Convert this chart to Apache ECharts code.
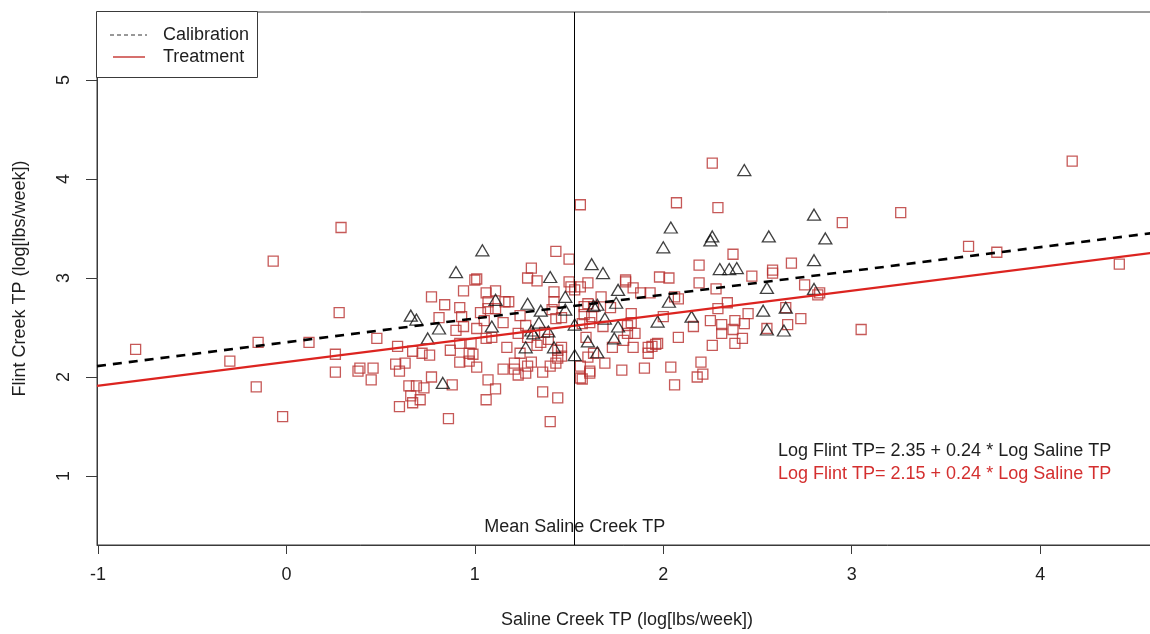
<!DOCTYPE html>
<html>
<head>
<meta charset="utf-8">
<script src="https://cdn.jsdelivr.net/npm/echarts@6/dist/echarts.min.js"></script>
<style>
  html, body { margin: 0; padding: 0; background: #fff; overflow: hidden; }
  #chart { width: 1150px; height: 634px; }
</style>
</head>
<body>
<div id="chart"></div>
<script>
// calibration period (triangles), [log Saline TP, log Flint TP]
const calibrationPoints = [
  [2.43, 4.09], [2.80, 3.64], [2.04, 3.51], [2.00, 3.31], [2.25, 3.38], [2.26, 3.42],
  [2.56, 3.42], [2.86, 3.40], [1.04, 3.28], [0.90, 3.06], [1.62, 3.14], [1.68, 3.05],
  [2.30, 3.09], [2.35, 3.09], [2.39, 3.10], [2.80, 3.18], [1.40, 3.01], [1.76, 2.88],
  [1.48, 2.81], [2.55, 2.90], [2.80, 2.89], [1.11, 2.78], [1.28, 2.74], [1.35, 2.67],
  [1.48, 2.68], [1.75, 2.75], [1.63, 2.72], [1.65, 2.73], [2.03, 2.76], [0.66, 2.62],
  [0.69, 2.58], [0.81, 2.49], [1.09, 2.51], [1.53, 2.53], [1.39, 2.46], [1.76, 2.51],
  [1.97, 2.56], [2.15, 2.61], [2.53, 2.67], [2.65, 2.70], [2.55, 2.48], [2.64, 2.47],
  [0.75, 2.39], [1.34, 2.55], [1.31, 2.44], [1.30, 2.47], [1.74, 2.39], [1.60, 2.36],
  [1.42, 2.30], [1.27, 2.30], [1.65, 2.25], [1.53, 2.22], [0.83, 1.94], [1.69, 2.59]
];

// treatment period (squares)
const treatmentPoints = [
  [-0.80, 2.28], [-0.07, 3.17], [0.29, 3.51], [0.28, 2.65], [-0.15, 2.35], [0.12, 2.35],
  [0.48, 2.39], [-0.30, 2.16], [0.26, 2.23], [0.26, 2.05], [0.38, 2.06], [0.39, 2.09],
  [0.46, 2.09], [0.45, 1.97], [-0.16, 1.90], [-0.02, 1.60],
  [1.00, 2.98], [1.01, 2.99], [0.94, 2.87], [0.77, 2.81], [0.84, 2.73], [0.92, 2.70],
  [0.81, 2.60], [0.93, 2.61], [0.94, 2.51], [0.90, 2.47], [0.59, 2.31], [0.67, 2.26],
  [0.72, 2.24], [0.76, 2.22], [0.87, 2.27], [0.92, 2.34], [0.98, 2.34], [0.92, 2.15],
  [0.97, 2.24], [0.99, 2.23], [0.97, 2.16], [1.01, 2.10], [0.58, 2.13], [0.60, 2.06],
  [0.63, 2.14], [0.77, 2.00], [0.65, 1.91], [0.69, 1.91], [0.73, 1.89], [0.88, 1.92],
  [0.66, 1.81], [0.67, 1.74], [0.71, 1.77], [0.60, 1.70], [0.86, 1.58],
  [1.43, 3.27], [1.50, 3.19], [1.30, 3.10], [1.28, 3.00], [1.33, 2.97], [1.50, 2.96],
  [1.42, 2.86], [1.51, 2.91], [1.53, 2.88], [1.06, 2.85], [1.11, 2.87], [1.16, 2.76],
  [1.18, 2.76], [1.07, 2.76], [1.07, 2.69], [1.11, 2.69], [1.42, 2.76], [1.41, 2.68],
  [1.46, 2.60], [1.43, 2.59], [1.24, 2.62], [1.15, 2.55], [1.03, 2.65], [1.05, 2.57],
  [1.01, 2.49], [1.06, 2.39], [1.09, 2.40], [1.27, 2.52], [1.23, 2.44], [1.28, 2.40],
  [1.35, 2.35], [1.33, 2.32], [1.17, 2.30], [1.37, 2.45], [1.39, 2.38], [1.46, 2.30],
  [1.44, 2.27], [1.46, 2.21], [1.44, 2.19], [1.24, 2.24], [1.30, 2.15], [1.28, 2.11],
  [1.21, 2.14], [1.15, 2.08], [1.21, 2.08], [1.23, 2.02], [1.27, 2.04], [1.36, 2.05],
  [1.40, 2.11], [1.43, 2.14], [1.07, 1.97], [1.11, 1.88], [1.36, 1.85], [1.44, 1.79],
  [1.06, 1.77], [1.40, 1.55], [1.56, 2.11], [1.56, 1.99],
  [2.07, 3.76], [1.56, 3.74], [1.98, 3.01], [2.03, 3.00], [1.80, 2.98], [1.80, 2.96],
  [1.84, 2.90], [1.88, 2.85], [1.93, 2.85], [1.60, 2.95], [1.56, 2.91], [1.67, 2.81],
  [1.60, 2.74], [1.63, 2.71], [1.58, 2.71], [1.72, 2.70], [2.06, 2.81], [2.08, 2.79],
  [1.58, 2.63], [1.62, 2.61], [1.61, 2.55], [1.57, 2.54], [1.68, 2.51], [1.83, 2.64],
  [1.83, 2.55], [1.81, 2.52], [1.85, 2.44], [1.81, 2.44], [2.00, 2.61], [1.59, 2.40],
  [1.79, 2.37], [1.73, 2.30], [1.84, 2.30], [1.92, 2.30], [1.92, 2.24], [1.94, 2.31],
  [1.96, 2.33], [1.97, 2.34], [2.08, 2.40], [1.60, 2.20], [1.63, 2.24], [1.69, 2.14],
  [1.78, 2.07], [1.90, 2.09], [2.04, 2.10], [1.61, 2.06], [1.61, 2.04], [1.57, 1.98],
  [2.06, 1.92],
  [2.26, 4.16], [2.29, 3.71], [2.37, 3.24], [2.19, 3.13], [2.47, 3.02], [2.58, 3.08],
  [2.58, 3.05], [2.68, 3.15], [2.19, 2.95], [2.28, 2.89], [2.34, 2.75], [2.29, 2.69],
  [2.45, 2.64], [2.16, 2.51], [2.25, 2.57], [2.31, 2.53], [2.31, 2.44], [2.38, 2.57],
  [2.37, 2.48], [2.38, 2.34], [2.43, 2.54], [2.42, 2.39], [2.26, 2.32], [2.20, 2.15],
  [2.18, 2.00], [2.21, 2.03], [2.65, 2.70], [2.66, 2.53], [2.75, 2.93], [2.82, 2.83],
  [2.83, 2.85], [2.73, 2.59], [2.55, 2.49],
  [4.17, 4.18], [3.26, 3.66], [2.95, 3.56], [3.62, 3.32], [3.77, 3.26], [4.42, 3.14],
  [3.05, 2.48]
];

// fitted lines, ends at the plot edges
const calibrationFit = [[-1.005, 2.11], [4.62, 3.46]];
const treatmentFit = [[-1.005, 1.91], [4.62, 3.26]];
const meanSaline = 1.53;

const xTicks = [-1, 0, 1, 2, 3, 4];
const yTicks = [1, 2, 3, 4, 5];
const calibrationEquation = "Log Flint TP= 2.35 + 0.24 * Log Saline TP";
const treatmentEquation = "Log Flint TP= 2.15 + 0.24 * Log Saline TP";

const FONT = "'Liberation Sans', Arial, sans-serif";
const TEXT = "#1e1e1e";
const AXIS = "#3a3a3a";
const RED_LINE = "#dc2420";
const RED_MARK = "#b8302e";

const chart = echarts.init(document.getElementById("chart"));

// the plot box runs past the right edge of the picture, as in the source
chart.setOption({
  animation: false,
  grid: {
    left: 97, top: 12, width: 1060, height: 533,
    outerBoundsMode: "none",
    show: true, borderColor: AXIS, borderWidth: 1,
  },
  xAxis: {
    type: "value",
    min: -1.005,
    max: 4.62,
    name: "Saline Creek TP (log[lbs/week])",
    nameLocation: "middle",
    nameGap: 66,
    nameTextStyle: { fontFamily: FONT, fontSize: 18, color: TEXT },
    axisLine: { show: true, onZero: false, lineStyle: { color: AXIS } },
    axisTick: { customValues: xTicks, length: 9, lineStyle: { color: AXIS } },
    axisLabel: { customValues: xTicks, margin: 21, fontFamily: FONT, fontSize: 18, color: TEXT },
    splitLine: { show: false },
  },
  yAxis: {
    type: "value",
    min: 0.303,
    max: 5.687,
    name: "Flint Creek TP (log[lbs/week])",
    nameLocation: "middle",
    nameGap: 68,
    nameTextStyle: { fontFamily: FONT, fontSize: 18, color: TEXT },
    axisLine: { show: true, onZero: false, lineStyle: { color: AXIS } },
    axisTick: { customValues: yTicks, length: 11, lineStyle: { color: AXIS } },
    axisLabel: { customValues: yTicks, rotate: 90, margin: 24, fontFamily: FONT, fontSize: 18, color: TEXT },
    splitLine: { show: false },
  },
  series: [
    {
      name: "Treatment points",
      type: "scatter",
      symbol: "rect",
      symbolSize: 10,
      data: treatmentPoints,
      itemStyle: { color: "rgba(0,0,0,0)", borderColor: RED_MARK, borderWidth: 1.3 },
      emphasis: { disabled: true },
      z: 2,
    },
    {
      name: "Calibration points",
      type: "scatter",
      symbol: "triangle",
      symbolSize: [13, 11],
      data: calibrationPoints,
      itemStyle: { color: "rgba(0,0,0,0)", borderColor: "#111", borderWidth: 1.3 },
      emphasis: { disabled: true },
      z: 3,
    },
    {
      name: "Calibration",
      type: "line",
      data: calibrationFit,
      symbol: "none",
      lineStyle: { color: "#000", width: 2.6, type: [9, 7] },
      z: 4,
      markLine: {
        silent: true,
        symbol: "none",
        label: { show: false },
        lineStyle: { color: "#000", width: 1, type: "solid" },
        data: [{ xAxis: meanSaline }],
      },
    },
    {
      name: "Treatment",
      type: "line",
      data: treatmentFit,
      symbol: "none",
      lineStyle: { color: RED_LINE, width: 2.4 },
      z: 4,
    },
  ],
});

const meanX = chart.convertToPixel({ xAxisIndex: 0 }, meanSaline);

chart.setOption({
  graphic: [
    // legend box
    {
      type: "rect", z: 10,
      shape: { x: 96.5, y: 11.5, width: 161, height: 66 },
      style: { fill: "#fff", stroke: AXIS, lineWidth: 1 },
    },
    {
      type: "line", z: 11,
      shape: { x1: 110, y1: 35, x2: 147, y2: 35 },
      style: { stroke: "#333", lineWidth: 1, lineDash: [4, 3] },
    },
    {
      type: "text", z: 11, x: 163, y: 35,
      style: { text: "Calibration", font: "18px " + FONT, fill: TEXT, verticalAlign: "middle" },
    },
    {
      type: "line", z: 11,
      shape: { x1: 113, y1: 57, x2: 145, y2: 57 },
      style: { stroke: "#c8403c", lineWidth: 1.5 },
    },
    {
      type: "text", z: 11, x: 163, y: 57,
      style: { text: "Treatment", font: "18px " + FONT, fill: TEXT, verticalAlign: "middle" },
    },
    // annotations
    {
      type: "text", z: 11, x: meanX, y: 527,
      style: { text: "Mean Saline Creek TP", font: "18px " + FONT, fill: TEXT, align: "center", verticalAlign: "middle" },
    },
    {
      type: "text", z: 11, x: 778, y: 451,
      style: { text: calibrationEquation, font: "18px " + FONT, fill: TEXT, verticalAlign: "middle" },
    },
    {
      type: "text", z: 11, x: 778, y: 474,
      style: { text: treatmentEquation, font: "18px " + FONT, fill: "#d42f2f", verticalAlign: "middle" },
    },
  ],
});
</script>
</body>
</html>
